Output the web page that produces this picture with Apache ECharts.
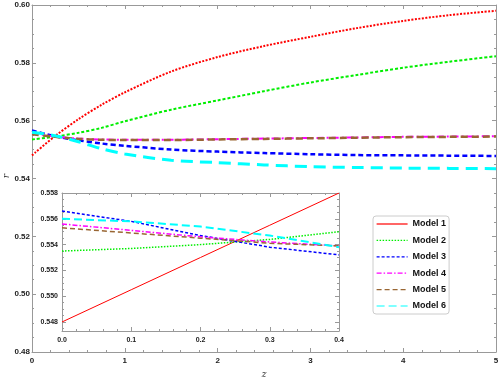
<!DOCTYPE html>
<html>
<head>
<meta charset="utf-8">
<script src="https://cdn.jsdelivr.net/npm/echarts@6.0.0/dist/echarts.min.js"></script>
<style>
html, body { margin: 0; padding: 0; background: #fff; }
#chart { width: 498px; height: 380px; }
</style>
</head>
<body>
<div id="chart"></div>
<script>
// main panel, z from 0 to 5
var zMain = [0, 0.25, 0.5, 0.75, 1, 1.5, 2, 2.5, 3, 3.5, 4, 4.5, 5];
var model1 = [0.5480, 0.5547, 0.5605, 0.5655, 0.5698, 0.5770, 0.5820, 0.5858, 0.5890, 0.5920, 0.5945, 0.5965, 0.5980];
var model2 = [0.5535, 0.5545, 0.5558, 0.5575, 0.5598, 0.5638, 0.5670, 0.5702, 0.5732, 0.5758, 0.5783, 0.5804, 0.5823];
var model3 = [0.5566, 0.5546, 0.5532, 0.5521, 0.5513, 0.5500, 0.5493, 0.5488, 0.5484, 0.5481, 0.5480, 0.5479, 0.5478];
var model4 = [0.5556, 0.5545, 0.5538, 0.5535, 0.5534, 0.5534, 0.5536, 0.5538, 0.5540, 0.5542, 0.5544, 0.5545, 0.5546];
var model5 = [0.5553, 0.5544, 0.5537, 0.5534, 0.5533, 0.5533, 0.5535, 0.5537, 0.5539, 0.5541, 0.5543, 0.5544, 0.5545];
var model6 = [0.5560, 0.5548, 0.5527, 0.5503, 0.5485, 0.5463, 0.5455, 0.5447, 0.5441, 0.5438, 0.5436, 0.5435, 0.5434];

// inset, z from 0 to 0.4
var zInset = [0, 0.1, 0.2, 0.3, 0.4];
var inset1 = [0.5480, 0.5505, 0.5530, 0.5555, 0.5580];
var inset2 = [0.5535, 0.5537, 0.5540, 0.5544, 0.5550];
var inset3 = [0.5566, 0.5558, 0.5547, 0.5538, 0.5532];
var inset4 = [0.5556, 0.5551, 0.5546, 0.5542, 0.5539];
var inset5 = [0.5553, 0.5549, 0.5545, 0.5541, 0.5539];
var inset6 = [0.5560, 0.5558, 0.5554, 0.5547, 0.5538];

var names = ['Model 1', 'Model 2', 'Model 3', 'Model 4', 'Model 5', 'Model 6'];
var colors = ['#ff0000', '#00ee00', '#0000ff', '#ff00ff', '#996633', '#00ffff'];

function pairs(xs, ys) {
	return xs.map(function(x, i) { return [x, ys[i]]; });
}

var frame = '#999';
var labelFont = { color: '#222', fontWeight: 'bold', fontFamily: 'Liberation Sans, Arial' };

function axis(opt) {
	var base = {
		type: 'value',
		axisLine: { show: true, onZero: false, lineStyle: { color: frame, width: 1 } },
		axisTick: { show: true, inside: true, length: 4, lineStyle: { color: frame } },
		minorTick: { show: true, length: 2, lineStyle: { color: frame } },
		splitLine: { show: false },
		axisLabel: { show: false }
	};
	for (var k in opt) base[k] = opt[k];
	return base;
}

var mainData = [model1, model2, model3, model4, model5, model6];
var insetData = [inset1, inset2, inset3, inset4, inset5, inset6];
var mainDash = [[2, 1.5], [3, 2], [5, 3], [7, 3, 2, 3], [7, 4], [12, 7]];
var mainWidth = [2, 2, 2.5, 2, 2.5, 3];
var insetDash = ['solid', [1.5, 1.5], [3, 2], [5, 2, 1.5, 2], [5, 3], [8, 4]];
var insetWidth = [1, 1.5, 1.5, 1.5, 1.5, 2];

var series = [];
// inset series first so the legend takes their look
for (var i = 0; i < 6; i++) {
	series.push({
		name: names[i], type: 'line', xAxisIndex: 2, yAxisIndex: 2,
		data: pairs(zInset, insetData[i]), symbol: 'none', showSymbol: false, z: 6,
		lineStyle: { color: colors[i], width: insetWidth[i], type: insetDash[i] },
		itemStyle: { color: colors[i] }
	});
}
for (var j = 0; j < 6; j++) {
	series.push({
		name: names[j], type: 'line', xAxisIndex: 0, yAxisIndex: 0,
		data: pairs(zMain, mainData[j]), symbol: 'none', showSymbol: false, smooth: 0.3, z: 2,
		lineStyle: { color: colors[j], width: mainWidth[j], type: mainDash[j] },
		itemStyle: { color: colors[j] }
	});
}

var chart = echarts.init(document.getElementById('chart'));
chart.setOption({
	animation: false,
	backgroundColor: '#fff',
	grid: [
		{ left: 32, right: 2, top: 5, bottom: 28, containLabel: false, outerBoundsMode: 'none' },
		{ left: 62, right: 159, top: 193, bottom: 49, containLabel: false, outerBoundsMode: 'none',
		  show: true, backgroundColor: '#fff', borderWidth: 0, z: 3 }
	],
	graphic: [{
		type: 'text', left: 2, top: 174, rotation: Math.PI / 2,
		style: { text: 'r', fontSize: 9, fontStyle: 'italic', fill: '#333', fontFamily: 'DejaVu Serif' }
	}],
	xAxis: [
		axis({ gridIndex: 0, position: 'bottom', min: 0, max: 5, interval: 1,
			minorTick: { show: true, splitNumber: 5, length: 2, lineStyle: { color: frame } },
			axisLabel: Object.assign({ show: true, fontSize: 8, margin: 5 }, labelFont),
			name: 'z', nameLocation: 'middle', nameGap: 18, nameMoveOverlap: false,
			nameTextStyle: { fontSize: 9, fontStyle: 'italic', color: '#333', fontFamily: 'DejaVu Serif' } }),
		axis({ gridIndex: 0, position: 'top', min: 0, max: 5, interval: 1,
			minorTick: { show: true, splitNumber: 5, length: 2, lineStyle: { color: frame } } }),
		axis({ gridIndex: 1, position: 'bottom', min: 0, max: 0.4, interval: 0.1, z: 5,
			minorTick: { show: true, splitNumber: 5, length: 2, lineStyle: { color: frame } },
			axisLabel: Object.assign({ show: true, fontSize: 7, margin: 6,
				formatter: function(v) { return v.toFixed(1); } }, labelFont) }),
		axis({ gridIndex: 1, position: 'top', min: 0, max: 0.4, interval: 0.1, z: 5,
			minorTick: { show: true, splitNumber: 5, length: 2, lineStyle: { color: frame } } })
	],
	yAxis: [
		axis({ gridIndex: 0, position: 'left', min: 0.48, max: 0.60, interval: 0.02,
			minorTick: { show: true, splitNumber: 4, length: 2, lineStyle: { color: frame } },
			axisLabel: Object.assign({ show: true, fontSize: 8, margin: 2, hideOverlap: false,
				formatter: function(v) { return v.toFixed(2); } }, labelFont) }),
		axis({ gridIndex: 0, position: 'right', min: 0.48, max: 0.60, interval: 0.02,
			minorTick: { show: true, splitNumber: 4, length: 2, lineStyle: { color: frame } } }),
		axis({ gridIndex: 1, position: 'left', min: 0.5473, max: 0.558, splitNumber: 5, z: 5,
			minorTick: { show: true, splitNumber: 4, length: 2, lineStyle: { color: frame } },
			axisLabel: Object.assign({ show: true, fontSize: 7, margin: 4, showMinLabel: false,
				formatter: function(v) { return v.toFixed(3); } }, labelFont) }),
		axis({ gridIndex: 1, position: 'right', min: 0.5473, max: 0.558, splitNumber: 5, z: 5,
			minorTick: { show: true, splitNumber: 4, length: 2, lineStyle: { color: frame } } })
	],
	legend: {
		orient: 'vertical', left: 373, top: 216,
		data: names,
		itemWidth: 31, itemHeight: 10, itemGap: 6.4, itemTextGap: 7,
		padding: [3, 3, 3, 3],
		itemStyle: { opacity: 0 },
		lineStyle: { width: 1.2 },
		backgroundColor: '#fff', borderColor: '#ccc', borderWidth: 1, borderRadius: 3,
		textStyle: { fontSize: 9, lineHeight: 10, fontWeight: 'bold', color: '#111', fontFamily: 'Liberation Sans, Arial' },
		z: 10
	},
	series: series
});
</script>
</body>
</html>
